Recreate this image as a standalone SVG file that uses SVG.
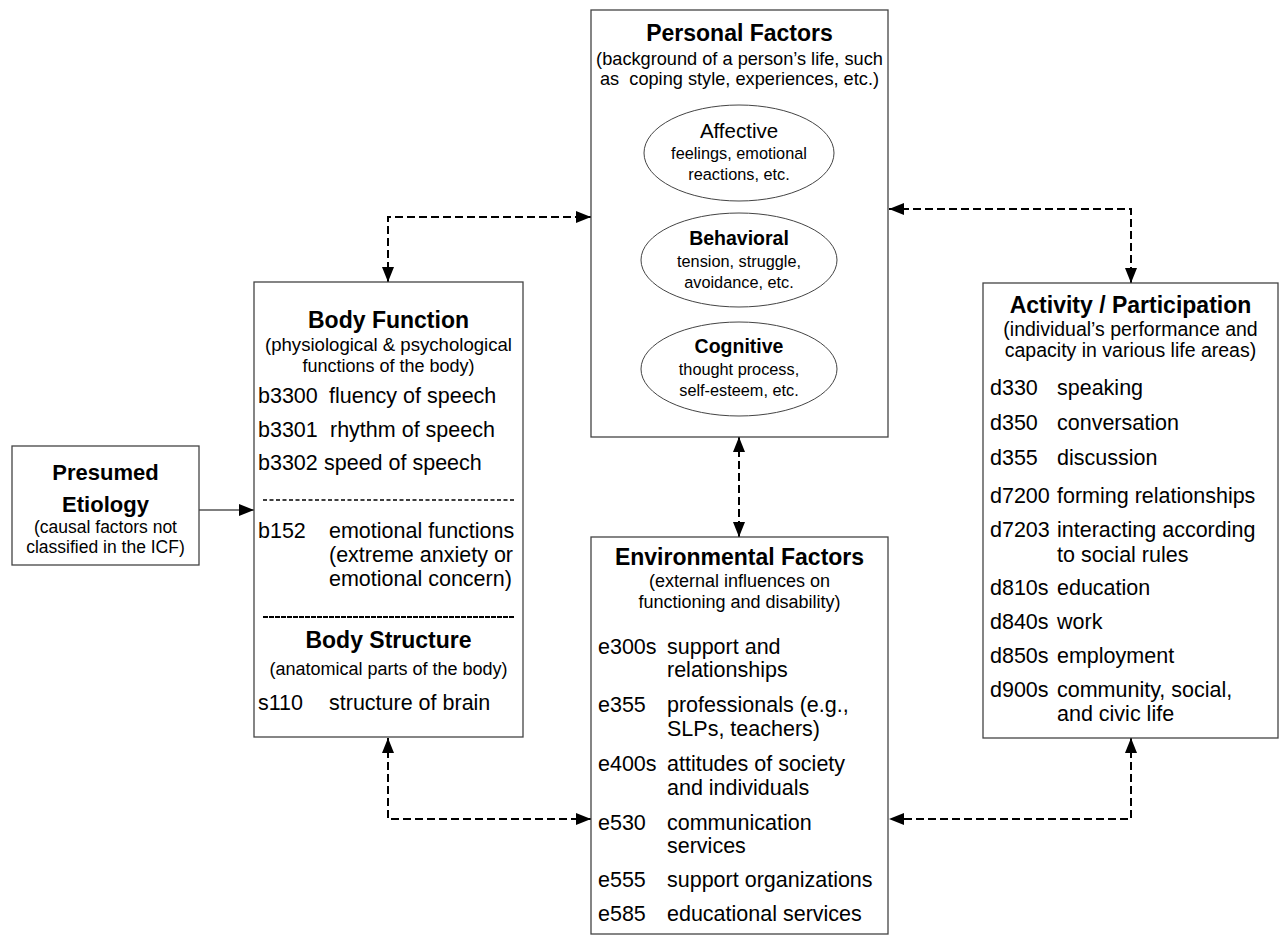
<svg xmlns="http://www.w3.org/2000/svg" width="1287" height="938" viewBox="0 0 1287 938">
<style>
text{font-family:"Liberation Sans",Arial,sans-serif;fill:#000;white-space:pre}
.box{fill:#fff;stroke:#444;stroke-width:1.3}
.ell{fill:#fff;stroke:#444;stroke-width:1}
.t{font-weight:bold;font-size:23px;text-anchor:middle}
.s{font-size:18px;text-anchor:middle}
.i{font-size:21.5px}
.et{font-size:20.5px;text-anchor:middle}
.es{font-size:16.3px;text-anchor:middle}
.dash{fill:none;stroke:#000;stroke-width:2;stroke-dasharray:8 4;marker-start:url(#ah);marker-end:url(#ah)}
</style>
<defs>
<marker id="ah" viewBox="0 0 15 12" refX="15" refY="6" markerUnits="userSpaceOnUse" markerWidth="15" markerHeight="12" orient="auto-start-reverse">
<path d="M0,0 L15,6 L0,12 Z" fill="#000"/>
</marker>
</defs>

<g id="connectors">
<path class="dash" d="M388,282 V217 H591"/>
<path class="dash" d="M889,209 H1131 V283"/>
<path class="dash" d="M739,437 V537"/>
<path class="dash" d="M388,738 V819 H591"/>
<path class="dash" d="M1131,738 V819 H889"/>
<path d="M199,510 H254" fill="none" stroke="#000" stroke-width="1.2" marker-end="url(#ah)"/>
</g>

<g id="personal-factors">
<rect class="box" x="591" y="10" width="297" height="427"/>
<text class="t" x="739.5" y="41">Personal Factors</text>
<text class="s" x="739.5" y="65" style="font-size:18.2px">(background of a person’s life, such</text>
<text class="s" x="739.5" y="85" style="font-size:18.2px">as  coping style, experiences, etc.)</text>
<g id="affective">
<ellipse class="ell" cx="739" cy="153" rx="95" ry="48"/>
<text class="et" x="739" y="138">Affective</text>
<text class="es" x="739" y="159">feelings, emotional</text>
<text class="es" x="739" y="180">reactions, etc.</text>
</g>
<g id="behavioral">
<ellipse class="ell" cx="739" cy="260" rx="98" ry="47"/>
<text class="et" x="739" y="245" style="font-weight:bold;font-size:19.5px">Behavioral</text>
<text class="es" x="739" y="267">tension, struggle,</text>
<text class="es" x="739" y="288">avoidance, etc.</text>
</g>
<g id="cognitive">
<ellipse class="ell" cx="739" cy="369" rx="98" ry="47"/>
<text class="et" x="739" y="353" style="font-weight:bold;font-size:19.5px">Cognitive</text>
<text class="es" x="739" y="375">thought process,</text>
<text class="es" x="739" y="396">self-esteem, etc.</text>
</g>
</g>

<g id="presumed-etiology">
<rect class="box" x="12" y="446" width="187" height="119"/>
<text class="t" x="105.5" y="480" style="font-size:22px">Presumed</text>
<text class="t" x="105.5" y="512" style="font-size:22px">Etiology</text>
<text class="s" x="105.5" y="533" style="font-size:17.5px">(causal factors not</text>
<text class="s" x="105.5" y="553" style="font-size:17.5px">classified in the ICF)</text>
</g>

<g id="body-function">
<rect class="box" x="254" y="282" width="269" height="455"/>
<text class="t" x="388.5" y="328">Body Function</text>
<text class="s" x="388.5" y="351" style="font-size:18.6px">(physiological &amp; psychological</text>
<text class="s" x="388.5" y="372">functions of the body)</text>
<text class="i" x="258" y="403">b3300</text><text class="i" x="329" y="403">fluency of speech</text>
<text class="i" x="258" y="437">b3301</text><text class="i" x="330" y="437">rhythm of speech</text>
<text class="i" x="258" y="470">b3302</text><text class="i" x="324" y="470">speed of speech</text>
<line x1="263" y1="500" x2="514" y2="500" stroke="#000" stroke-width="1.3" stroke-dasharray="4 2.5"/>
<text class="i" x="258" y="538">b152</text><text class="i" x="329" y="538">emotional functions</text>
<text class="i" x="329" y="562">(extreme anxiety or</text>
<text class="i" x="329" y="586">emotional concern)</text>
<line x1="263" y1="617" x2="515" y2="617" stroke="#000" stroke-width="2.2" stroke-dasharray="5 1"/>
<text class="t" x="388.5" y="648">Body Structure</text>
<text class="s" x="388.5" y="675">(anatomical parts of the body)</text>
<text class="i" x="258" y="710">s110</text><text class="i" x="329" y="710">structure of brain</text>
</g>

<g id="activity-participation">
<rect class="box" x="983" y="283" width="295" height="455"/>
<text class="t" x="1130.5" y="313">Activity / Participation</text>
<text class="s" x="1130.5" y="336" style="font-size:19.5px">(individual’s performance and</text>
<text class="s" x="1130.5" y="357" style="font-size:19.5px">capacity in various life areas)</text>
<text class="i" x="990" y="395">d330</text><text class="i" x="1057" y="395">speaking</text>
<text class="i" x="990" y="430">d350</text><text class="i" x="1057" y="430">conversation</text>
<text class="i" x="990" y="465">d355</text><text class="i" x="1057" y="465">discussion</text>
<text class="i" x="990" y="503">d7200</text><text class="i" x="1057" y="503">forming relationships</text>
<text class="i" x="990" y="537">d7203</text><text class="i" x="1057" y="537">interacting according</text>
<text class="i" x="1057" y="562">to social rules</text>
<text class="i" x="990" y="595">d810s</text><text class="i" x="1057" y="595">education</text>
<text class="i" x="990" y="629">d840s</text><text class="i" x="1057" y="629">work</text>
<text class="i" x="990" y="663">d850s</text><text class="i" x="1057" y="663">employment</text>
<text class="i" x="990" y="697">d900s</text><text class="i" x="1057" y="697">community, social,</text>
<text class="i" x="1057" y="721">and civic life</text>
</g>

<g id="environmental-factors">
<rect class="box" x="591" y="537" width="297" height="397"/>
<text class="t" x="739.5" y="565">Environmental Factors</text>
<text class="s" x="739.5" y="587">(external influences on</text>
<text class="s" x="739.5" y="608">functioning and disability)</text>
<text class="i" x="598" y="654">e300s</text><text class="i" x="667" y="654">support and</text>
<text class="i" x="667" y="677">relationships</text>
<text class="i" x="598" y="712">e355</text><text class="i" x="667" y="712">professionals (e.g.,</text>
<text class="i" x="667" y="736">SLPs, teachers)</text>
<text class="i" x="598" y="771">e400s</text><text class="i" x="667" y="771">attitudes of society</text>
<text class="i" x="667" y="795">and individuals</text>
<text class="i" x="598" y="830">e530</text><text class="i" x="667" y="830">communication</text>
<text class="i" x="667" y="853">services</text>
<text class="i" x="598" y="887">e555</text><text class="i" x="667" y="887">support organizations</text>
<text class="i" x="598" y="921">e585</text><text class="i" x="667" y="921">educational services</text>
</g>
</svg>
